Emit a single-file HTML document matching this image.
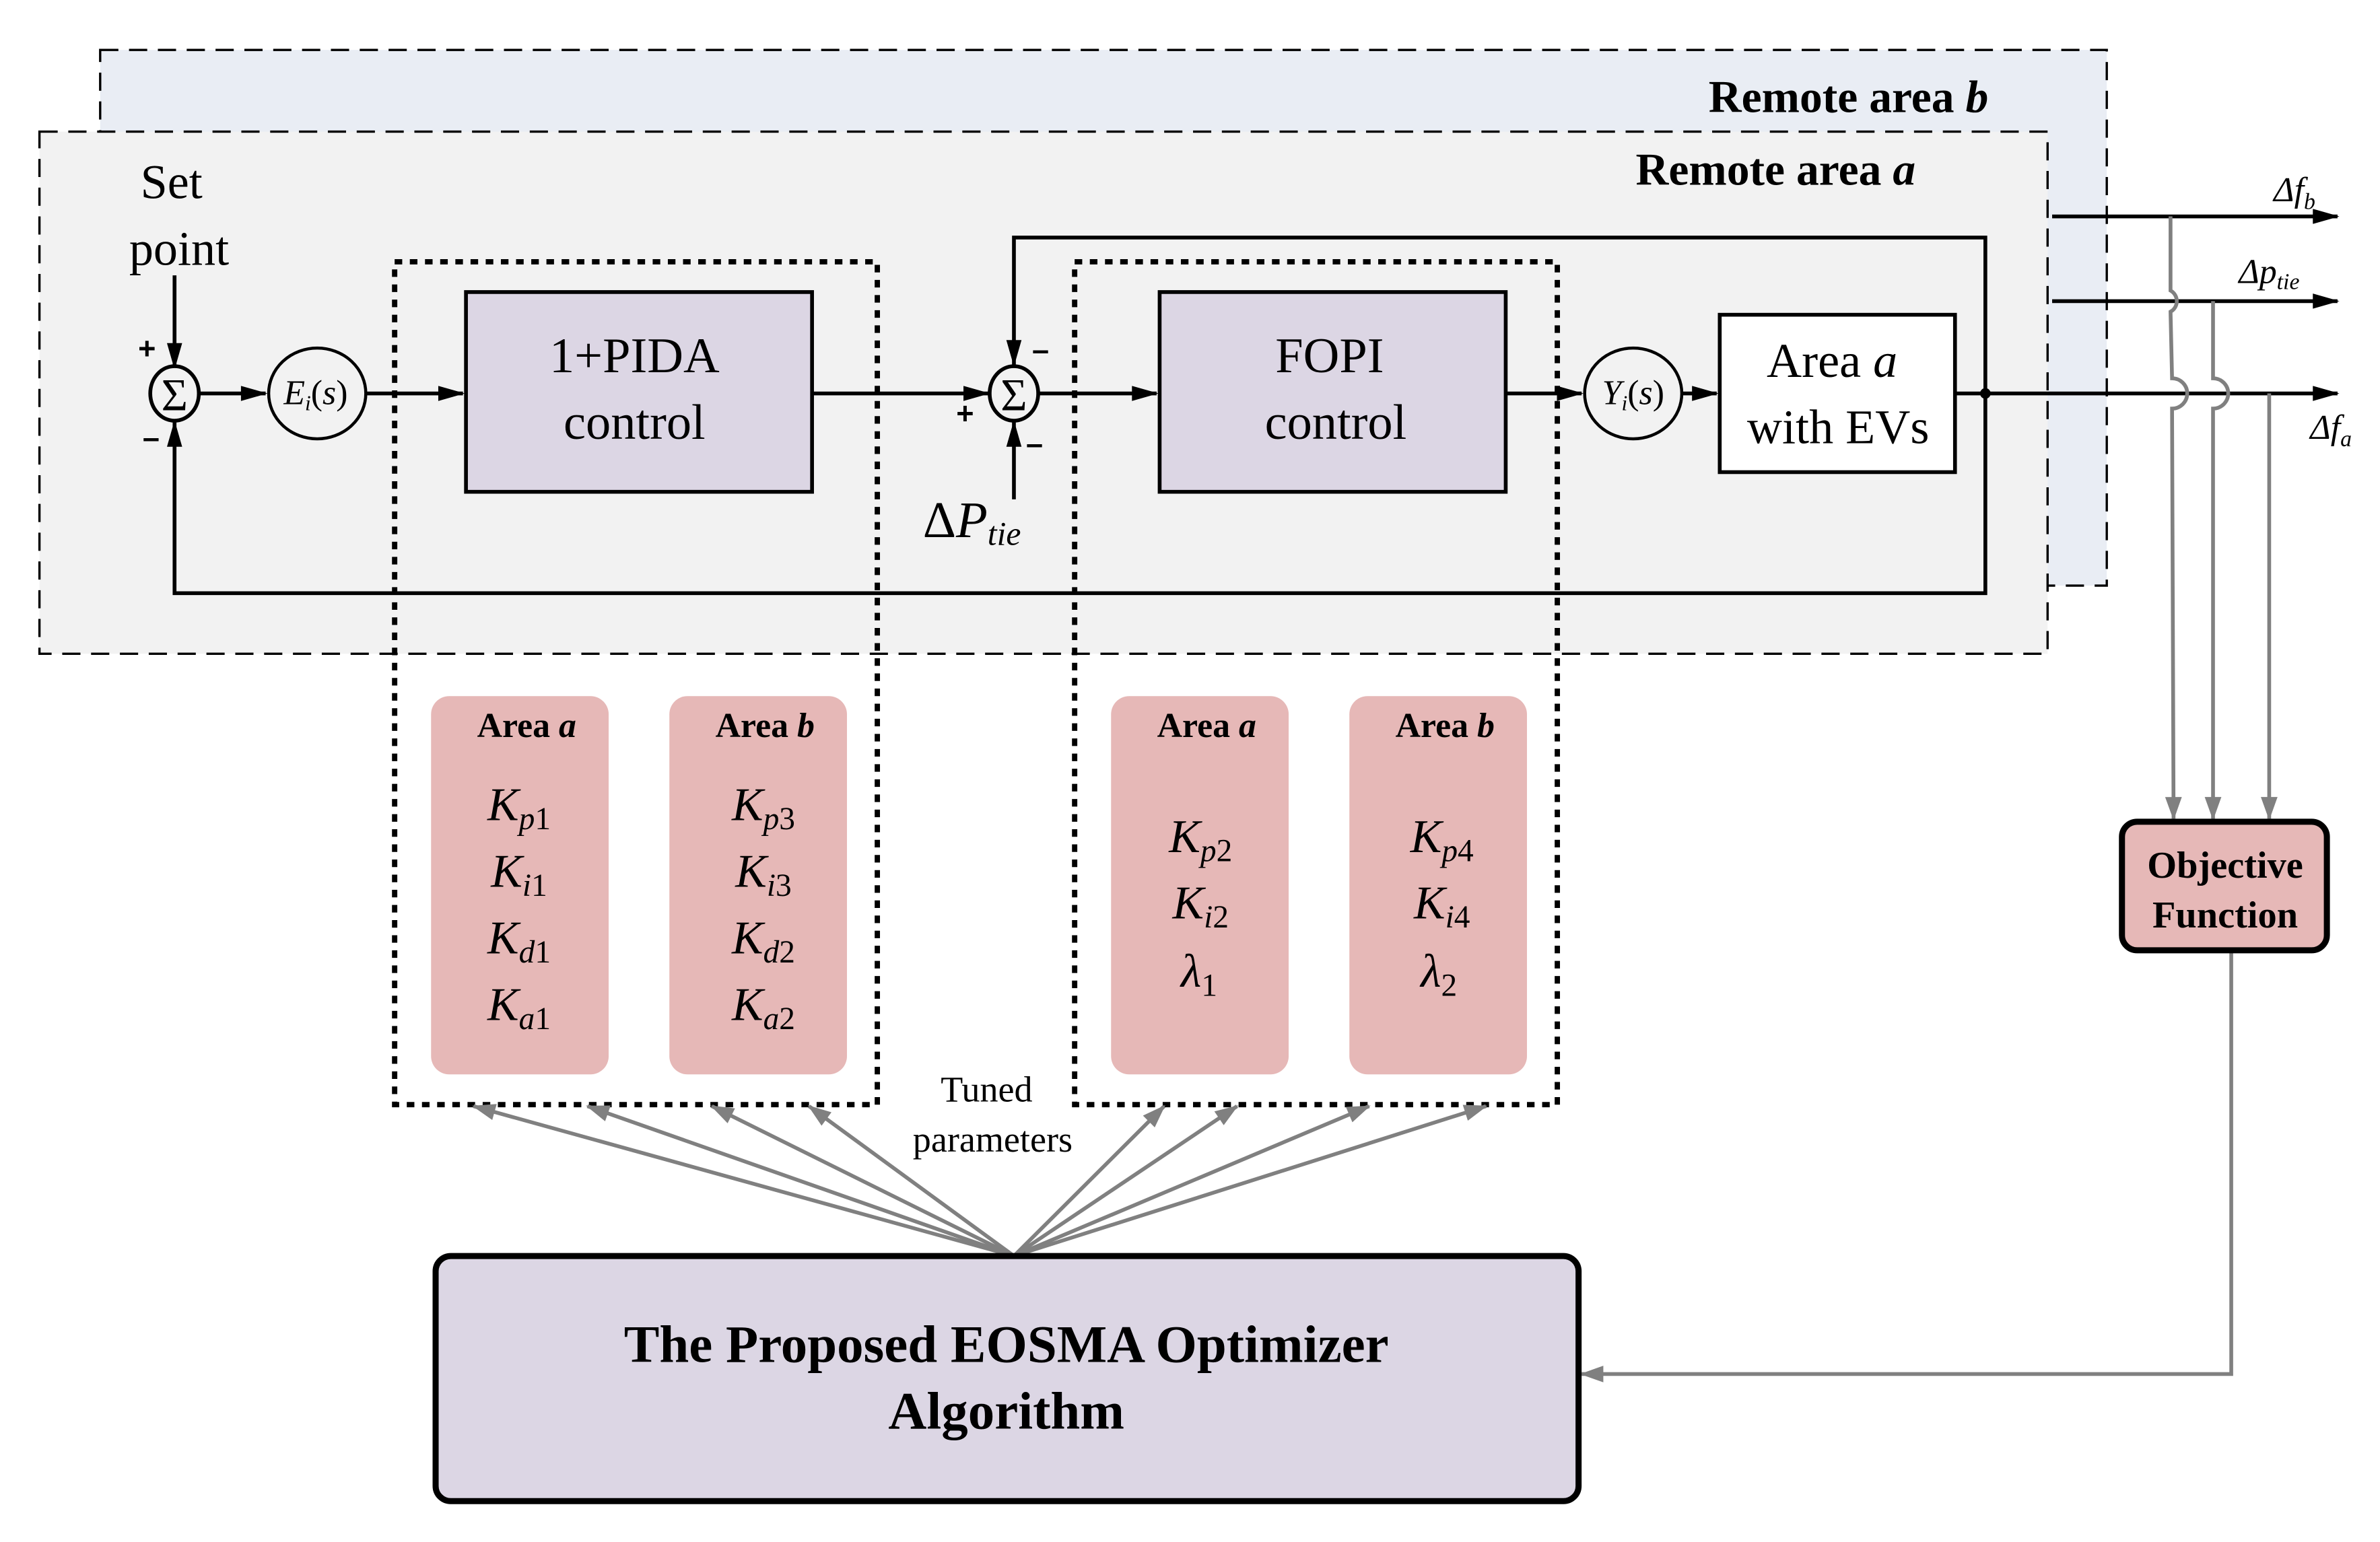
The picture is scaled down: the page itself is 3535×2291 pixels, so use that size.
<!DOCTYPE html>
<html><head><meta charset="utf-8"><style>html,body{margin:0;padding:0;background:#fff}svg{display:block;font-family:"Liberation Serif",serif}</style></head>
<body>
<svg width="3535" height="2291" viewBox="0 0 1568 1019" preserveAspectRatio="none" xmlns="http://www.w3.org/2000/svg" font-family="'Liberation Serif', serif">
<defs>
<marker id="ab2" viewBox="0 0 14 8" markerWidth="18" markerHeight="10" refX="13" refY="4" orient="auto" markerUnits="userSpaceOnUse"><path d="M0,0 L14,4 L0,8 z" fill="#000"/></marker>
<marker id="ag" viewBox="0 0 14 10" markerWidth="16" markerHeight="11" refX="13" refY="5" orient="auto" markerUnits="userSpaceOnUse"><path d="M0,0 L14,5 L0,10 z" fill="#808080"/></marker>
</defs>
<rect x="66" y="33" width="1322" height="354" fill="#e9edf4" stroke="#000" stroke-width="1.5" stroke-dasharray="12,7"/>
<rect x="26" y="87" width="1323" height="345" fill="#f2f2f2" stroke="#000" stroke-width="1.5" stroke-dasharray="12,7"/>
<text x="1310" y="74" text-anchor="end" font-size="30" font-weight="bold">Remote area <tspan font-style="italic">b</tspan></text>
<text x="1262" y="122" text-anchor="end" font-size="30" font-weight="bold">Remote area <tspan font-style="italic">a</tspan></text>
<text x="113" y="131" text-anchor="middle" font-size="32">Set</text>
<text x="118" y="175" text-anchor="middle" font-size="32">point</text>
<g stroke="#000" stroke-width="2.5" fill="none">
<line x1="115" y1="182" x2="115" y2="243" marker-end="url(#ab2)"/>
<line x1="131" y1="260" x2="175" y2="260" marker-end="url(#ab2)"/>
<line x1="241" y1="260" x2="305" y2="260" marker-end="url(#ab2)"/>
<line x1="535" y1="260" x2="651" y2="260" marker-end="url(#ab2)"/>
<line x1="684" y1="260" x2="762" y2="260" marker-end="url(#ab2)"/>
<line x1="992" y1="260" x2="1042" y2="260" marker-end="url(#ab2)"/>
<line x1="1108" y1="260" x2="1131" y2="260" marker-end="url(#ab2)"/>
<polyline points="1288,260 1308,260"/>
<polyline points="1308,260 1308,157 668,157 668,241" marker-end="url(#ab2)"/>
<polyline points="1308,260 1308,392 115,392 115,279" marker-end="url(#ab2)"/>
<line x1="668" y1="330" x2="668" y2="279" marker-end="url(#ab2)"/>
<line x1="1352" y1="143" x2="1540" y2="143" marker-end="url(#ab2)"/>
<line x1="1352" y1="199" x2="1540" y2="199" marker-end="url(#ab2)"/>
<line x1="1308" y1="260" x2="1540" y2="260" marker-end="url(#ab2)"/>
</g>
<circle cx="1308" cy="260" r="3.5" fill="#000"/>
<ellipse cx="115" cy="260" rx="16" ry="18" fill="#f2f2f2" stroke="#000" stroke-width="2.5"/>
<text x="115" y="271" text-anchor="middle" font-size="30">Σ</text>
<ellipse cx="668" cy="260" rx="16" ry="18" fill="#f2f2f2" stroke="#000" stroke-width="2.5"/>
<text x="668" y="271" text-anchor="middle" font-size="30">Σ</text>
<g font-family="'Liberation Sans', sans-serif" font-weight="bold" font-size="20">
<text x="91" y="237">+</text><text x="94" y="296">–</text>
<text x="630" y="280">+</text><text x="680" y="238">–</text><text x="676" y="300">–</text>
</g>
<ellipse cx="209" cy="260" rx="32" ry="30" fill="#f2f2f2" stroke="#000" stroke-width="2"/>
<text x="208" y="267" text-anchor="middle" font-size="23" font-style="italic">E<tspan font-size="14" dy="4">i</tspan><tspan dy="-4" font-style="normal">(</tspan>s<tspan font-style="normal">)</tspan></text>
<ellipse cx="1076" cy="260" rx="32" ry="30" fill="#f2f2f2" stroke="#000" stroke-width="2"/>
<text x="1076" y="267" text-anchor="middle" font-size="23" font-style="italic">Y<tspan font-size="14" dy="4">i</tspan><tspan dy="-4" font-style="normal">(</tspan>s<tspan font-style="normal">)</tspan></text>
<rect x="307" y="193" width="228" height="132" fill="#dcd6e4" stroke="#000" stroke-width="2.5"/>
<text x="418" y="246" text-anchor="middle" font-size="33">1+PIDA</text>
<text x="418" y="290" text-anchor="middle" font-size="33">control</text>
<rect x="764" y="193" width="228" height="132" fill="#dcd6e4" stroke="#000" stroke-width="2.5"/>
<text x="876" y="246" text-anchor="middle" font-size="33">FOPI</text>
<text x="880" y="290" text-anchor="middle" font-size="33">control</text>
<rect x="1133" y="208" width="155" height="104" fill="#fff" stroke="#000" stroke-width="2.5"/>
<text x="1207" y="249" text-anchor="middle" font-size="32">Area <tspan font-style="italic">a</tspan></text>
<text x="1211" y="293" text-anchor="middle" font-size="32">with EVs</text>
<text x="608" y="355" font-size="34">Δ<tspan font-style="italic">P</tspan><tspan font-style="italic" font-size="22" dy="5">tie</tspan></text>
<text x="1498" y="133" font-size="23" font-style="italic">Δf<tspan font-size="15" dy="5">b</tspan></text>
<text x="1475" y="187" font-size="23" font-style="italic">Δp<tspan font-size="15" dy="4">tie</tspan></text>
<text x="1522" y="290" font-size="23" font-style="italic">Δf<tspan font-size="15" dy="5">a</tspan></text>
<rect x="260" y="173" width="318" height="557" fill="none" stroke="#000" stroke-width="3.5" stroke-dasharray="5,5"/>
<rect x="708" y="173" width="318" height="557" fill="none" stroke="#000" stroke-width="3.5" stroke-dasharray="5,5"/>
<g fill="#e6b8b7">
<rect x="284" y="460" width="117" height="250" rx="12"/>
<rect x="441" y="460" width="117" height="250" rx="12"/>
<rect x="732" y="460" width="117" height="250" rx="12"/>
<rect x="889" y="460" width="117" height="250" rx="12"/>
</g>
<g font-size="23" font-weight="bold" text-anchor="middle">
<text x="347" y="487">Area <tspan font-style="italic">a</tspan></text>
<text x="504" y="487">Area <tspan font-style="italic">b</tspan></text>
<text x="795" y="487">Area <tspan font-style="italic">a</tspan></text>
<text x="952" y="487">Area <tspan font-style="italic">b</tspan></text>
</g>
<g font-size="31" font-style="italic" text-anchor="middle">
<text x="342" y="542">K<tspan font-size="21" dy="6">p</tspan><tspan font-style="normal" font-size="21">1</tspan></text>
<text x="342" y="586">K<tspan font-size="21" dy="6">i</tspan><tspan font-style="normal" font-size="21">1</tspan></text>
<text x="342" y="630">K<tspan font-size="21" dy="6">d</tspan><tspan font-style="normal" font-size="21">1</tspan></text>
<text x="342" y="674">K<tspan font-size="21" dy="6">a</tspan><tspan font-style="normal" font-size="21">1</tspan></text>
<text x="503" y="542">K<tspan font-size="21" dy="6">p</tspan><tspan font-style="normal" font-size="21">3</tspan></text>
<text x="503" y="586">K<tspan font-size="21" dy="6">i</tspan><tspan font-style="normal" font-size="21">3</tspan></text>
<text x="503" y="630">K<tspan font-size="21" dy="6">d</tspan><tspan font-style="normal" font-size="21">2</tspan></text>
<text x="503" y="674">K<tspan font-size="21" dy="6">a</tspan><tspan font-style="normal" font-size="21">2</tspan></text>
<text x="791" y="563">K<tspan font-size="21" dy="6">p</tspan><tspan font-style="normal" font-size="21">2</tspan></text>
<text x="791" y="607">K<tspan font-size="21" dy="6">i</tspan><tspan font-style="normal" font-size="21">2</tspan></text>
<text x="790" y="652">λ<tspan font-style="normal" font-size="21" dy="6">1</tspan></text>
<text x="950" y="563">K<tspan font-size="21" dy="6">p</tspan><tspan font-style="normal" font-size="21">4</tspan></text>
<text x="950" y="607">K<tspan font-size="21" dy="6">i</tspan><tspan font-style="normal" font-size="21">4</tspan></text>
<text x="948" y="652">λ<tspan font-style="normal" font-size="21" dy="6">2</tspan></text>
</g>
<text x="650" y="728" text-anchor="middle" font-size="24">Tuned</text>
<text x="654" y="761" text-anchor="middle" font-size="24">parameters</text>
<g stroke="#808080" stroke-width="2.5" fill="none">
<line x1="668" y1="830" x2="312" y2="731" marker-end="url(#ag)"/>
<line x1="668" y1="830" x2="387" y2="731" marker-end="url(#ag)"/>
<line x1="668" y1="830" x2="469" y2="731" marker-end="url(#ag)"/>
<line x1="668" y1="830" x2="533" y2="731" marker-end="url(#ag)"/>
<line x1="668" y1="830" x2="767" y2="731" marker-end="url(#ag)"/>
<line x1="668" y1="830" x2="815" y2="731" marker-end="url(#ag)"/>
<line x1="668" y1="830" x2="902" y2="731" marker-end="url(#ag)"/>
<line x1="668" y1="830" x2="979" y2="731" marker-end="url(#ag)"/>
<path d="M1430,143 L1430,192 A8,8 0 0 1 1430,206 L1431,250 A8,8 0 0 1 1431,270 L1432,541" marker-end="url(#ag)"/>
<path d="M1458,199 L1458,250 A8,8 0 0 1 1458,270 L1458,541" marker-end="url(#ag)"/>
<path d="M1495,260 L1495,541" marker-end="url(#ag)"/>
<polyline points="1470,628 1470,908 1042,908" marker-end="url(#ag)"/>
</g>
<rect x="1398" y="543" width="135" height="85" rx="10" fill="#e6b8b7" stroke="#000" stroke-width="4"/>
<text x="1466" y="580" text-anchor="middle" font-size="25" font-weight="bold">Objective</text>
<text x="1466" y="613" text-anchor="middle" font-size="25" font-weight="bold">Function</text>
<rect x="287" y="830" width="753" height="162" rx="10" fill="#dcd6e4" stroke="#000" stroke-width="4"/>
<text x="663" y="900" text-anchor="middle" font-size="35" font-weight="bold">The Proposed EOSMA Optimizer</text>
<text x="663" y="944" text-anchor="middle" font-size="35" font-weight="bold">Algorithm</text>
</svg>
</body></html>
